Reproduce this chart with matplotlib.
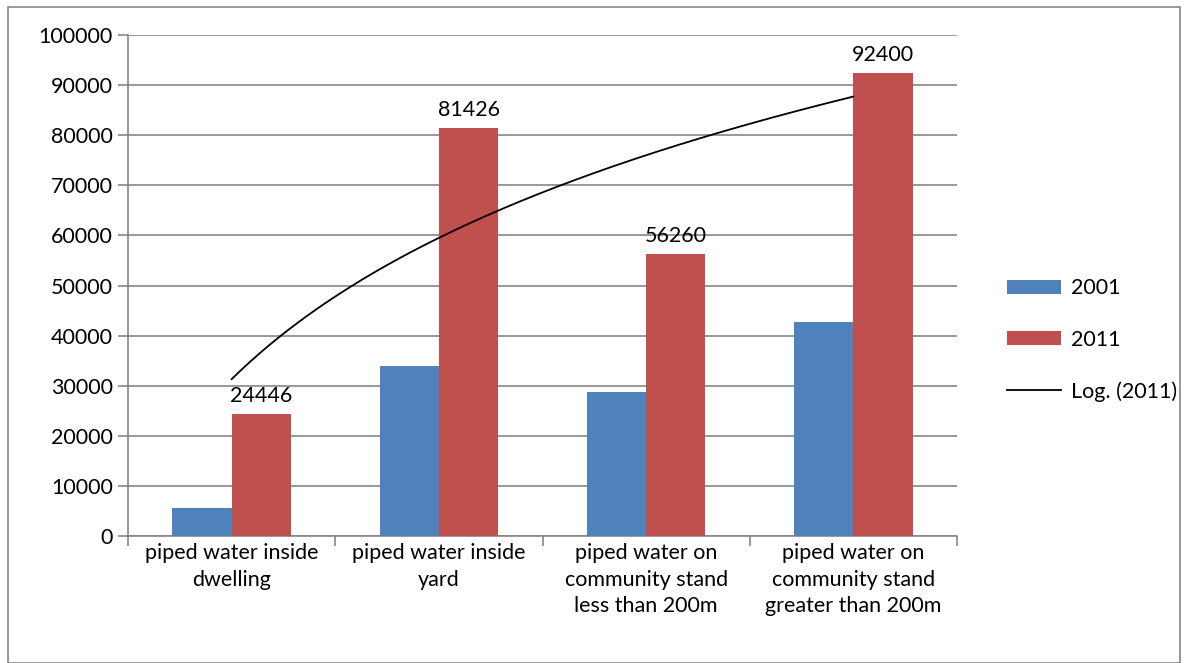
import matplotlib
matplotlib.use("Agg")
import matplotlib.pyplot as plt
import numpy as np
from matplotlib.patches import Rectangle

categories = ["piped water inside\ndwelling", "piped water inside\nyard",
              "piped water on\ncommunity stand\nless than 200m",
              "piped water on\ncommunity stand\ngreater than 200m"]
v2001 = [5600, 34000, 28800, 42800]
v2011 = [24446, 81426, 56260, 92400]
yticks = [0, 10000, 20000, 30000, 40000, 50000, 60000, 70000, 80000, 90000, 100000]

plt.rcParams['font.family'] = ['Lato', 'DejaVu Sans']
W, H = 1187, 663
FS = 15.5
fig = plt.figure(figsize=(W/100, H/100), dpi=100)
ax = fig.add_axes([128/W, 1-536/H, (957-128)/W, (536-35)/H])

x = np.arange(1, len(categories)+1)
bw = 0.286
grid_c = '#868686'
b1 = ax.bar(x - bw/2, v2001, bw, color='#4F81BD', label='2001', zorder=3)
b2 = ax.bar(x + bw/2, v2011, bw, color='#C0504D', label='2011', zorder=3)
for xi, v in zip(x, v2011):
    ax.text(xi + bw/2, v + 1600, str(v), ha='center', va='bottom', fontsize=FS, zorder=5)

# logarithmic trendline for 2011
a, b = np.polyfit(np.log(x), v2011, 1)
xs = np.linspace(1, len(x), 200)
ax.plot(xs, a*np.log(xs)+b, color='black', lw=1.3, label='Log. (2011)', zorder=4)

ax.set_xlim(0.5, len(x)+0.5)
ax.set_ylim(0, 100000)
ax.set_yticks(yticks)
ax.set_yticklabels([str(t) for t in yticks], fontsize=FS)
ax.yaxis.grid(True, color=grid_c, lw=1.2, zorder=0)
ax.set_xticks(x)
ax.set_xticklabels(categories, fontsize=FS, linespacing=1.42)
ax.set_xticks(np.arange(0.5, len(x)+1, 1), minor=True)
ax.tick_params(axis='x', which='major', length=0, pad=5)
ax.tick_params(axis='x', which='minor', length=7, color=grid_c, width=1.2)
ax.tick_params(axis='y', length=7, color=grid_c, width=1.2, pad=4)
for s in ['top', 'right']:
    ax.spines[s].set_visible(False)
for s in ['left', 'bottom']:
    ax.spines[s].set_color(grid_c)
    ax.spines[s].set_linewidth(1.2)

leg = fig.legend(handles=[b1, b2, ax.lines[0]], labels=['2001', '2011', 'Log. (2011)'],
                 loc='center left', bbox_to_anchor=(988/W, 1-340/H), frameon=False,
                 fontsize=FS, handlelength=2.5, handleheight=0.6, labelspacing=1.45,
                 handletextpad=0.45)

fig.patches.append(Rectangle((8/W, 0.0), (1180-8)/W, 1-7/H, transform=fig.transFigure,
                             fill=False, edgecolor=grid_c, lw=1.2))
fig.savefig('out.png', dpi=100)
